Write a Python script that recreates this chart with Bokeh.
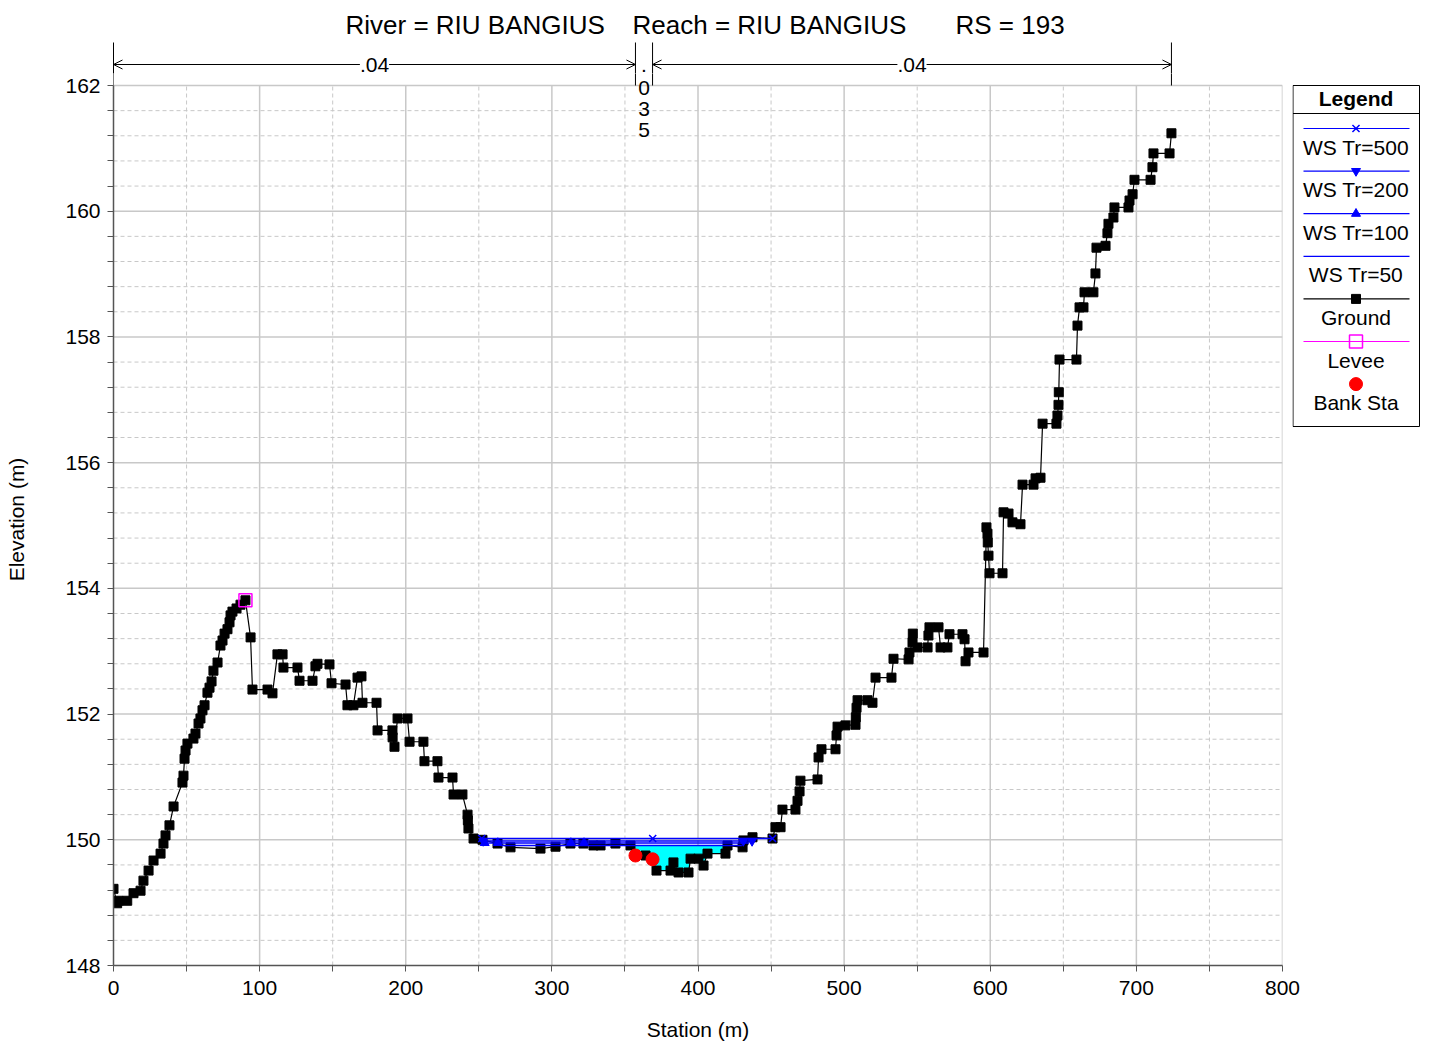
import numpy as np
from bokeh.plotting import figure
from bokeh.layouts import column, row
from bokeh.models import Range1d, FixedTicker, Label, Arrow, OpenHead
from bokeh.core.properties import value
from bokeh.embed import file_html
from bokeh.resources import INLINE

# ---------------- data ----------------
title_parts = ["River = RIU BANGIUS", "Reach = RIU BANGIUS", "RS = 193"]

station = [
    0.0, 2.5, 3.4, 9.4, 13.7, 18.5, 20.5, 24.0, 27.4, 32.2,
    34.2, 35.6, 38.3, 41.1, 47.2, 47.9, 48.6, 49.3, 50.6, 54.7,
    56.1, 58.2, 59.5, 60.9, 62.3, 64.3, 65.7, 67.1, 68.4, 71.2,
    73.2, 74.6, 76.0, 78.0, 79.4, 80.1, 81.4, 84.2, 86.9, 90.3,
    93.8, 95.1, 105.4, 108.8, 112.2, 115.7, 116.3, 125.9, 127.3, 136.2,
    138.2, 139.6, 147.8, 149.2, 158.8, 160.1, 164.2, 167.0, 169.7, 170.4,
    180.0, 180.7, 190.9, 191.0, 192.3, 194.4, 201.2, 202.6, 212.1, 212.8,
    221.7, 222.4, 232.0, 232.7, 238.8, 242.3, 242.5, 242.9, 246.4, 252.5,
    262.8, 271.7, 292.2, 302.5, 312.7, 321.6, 328.5, 333.3, 343.5, 353.8,
    357.2, 364.1, 368.9, 371.6, 381.2, 383.2, 386.7, 393.5, 394.9, 400.3,
    403.8, 406.5, 418.8, 420.2, 430.5, 431.1, 437.3, 451.0, 453.0, 456.5,
    457.8, 466.7, 468.1, 469.5, 470.1, 481.8, 482.5, 484.5, 494.1, 494.8,
    495.5, 500.9, 507.8, 508.0, 508.5, 509.2, 516.0, 519.4, 521.5, 532.4,
    533.8, 544.1, 544.7, 546.8, 547.0, 550.2, 557.1, 557.7, 558.4, 564.6,
    566.0, 570.7, 572.1, 581.0, 582.4, 583.1, 585.1, 595.4, 597.4, 598.1,
    598.3, 598.8, 599.5, 608.4, 609.1, 612.5, 615.2, 620.7, 622.1, 629.6,
    631.0, 634.4, 635.8, 645.3, 646.0, 646.7, 646.9, 647.4, 659.0, 659.7,
    661.1, 663.8, 664.5, 670.6, 672.0, 672.7, 678.9, 680.2, 680.9, 684.3,
    685.0, 694.6, 695.3, 697.4, 698.7, 709.7, 711.0, 711.7, 722.7, 724.0]

elevation = [
    149.22, 148.99, 149.03, 149.03, 149.15, 149.19, 149.35, 149.51, 149.67, 149.78,
    149.94, 150.07, 150.23, 150.53, 150.91, 151.02, 151.29, 151.42, 151.53, 151.61,
    151.69, 151.85, 151.93, 152.06, 152.14, 152.34, 152.42, 152.52, 152.69, 152.82,
    153.09, 153.17, 153.28, 153.35, 153.46, 153.57, 153.63, 153.68, 153.74, 153.81,
    153.22, 152.39, 152.39, 152.33, 152.95, 152.95, 152.74, 152.74, 152.53, 152.53,
    152.76, 152.80, 152.79, 152.49, 152.47, 152.14, 152.14, 152.58, 152.60, 152.18,
    152.18, 151.74, 151.74, 151.63, 151.48, 151.93, 151.93, 151.56, 151.56, 151.25,
    151.25, 150.99, 150.99, 150.72, 150.72, 150.40, 150.31, 150.18, 150.02, 150.00,
    149.94, 149.88, 149.86, 149.89, 149.94, 149.94, 149.91, 149.91, 149.94, 149.91,
    149.75, 149.75, 149.69, 149.51, 149.51, 149.64, 149.48, 149.48, 149.70, 149.70,
    149.59, 149.78, 149.78, 149.91, 149.88, 149.99, 150.04, 150.02, 150.20, 150.20,
    150.48, 150.48, 150.62, 150.77, 150.94, 150.96, 151.31, 151.44, 151.44, 151.66,
    151.80, 151.82, 151.83, 151.95, 152.10, 152.22, 152.22, 152.18, 152.58, 152.58,
    152.88, 152.87, 152.98, 153.14, 153.28, 153.06, 153.06, 153.25, 153.38, 153.38,
    153.06, 153.06, 153.27, 153.27, 153.19, 152.84, 152.98, 152.98, 154.97, 154.87,
    154.73, 154.52, 154.24, 154.24, 155.21, 155.19, 155.05, 155.02, 155.65, 155.65,
    155.75, 155.76, 156.62, 156.62, 156.75, 156.92, 157.12, 157.64, 157.64, 158.18,
    158.47, 158.47, 158.71, 158.71, 159.01, 159.42, 159.45, 159.65, 159.80, 159.90,
    160.06, 160.06, 160.17, 160.27, 160.50, 160.50, 160.70, 160.92, 160.92, 161.24]

levee_station = [90.3]
levee_elev = [153.81]

bank_station = [357.2, 368.9]
bank_elev = [149.75, 149.69]

ws_names = ["WS Tr=500", "WS Tr=200", "WS Tr=100", "WS Tr=50"]
ws_elev = [150.02, 149.98, 149.95, 149.91]
ws_left = [251.0, 252.0, 254.0, 265.0]
ws_right = [451.0, 437.0, 435.0, 430.0]
ws_markers = ["x", "inverted_triangle", "triangle", None]
ws500_mark_st = [252.0, 369.0, 451.0]
ws200_mark_st = [253.0, 431.0, 437.0]
ws100_mark_st = [254.0, 263.0, 313.0, 322.0]

fill_left, fill_right = 352.0, 432.0   # wetted channel shown in cyan

manning_n = [".04", ".035", ".04"]

x_ticks = [0, 100, 200, 300, 400, 500, 600, 700, 800]
x_minor = [50, 150, 250, 350, 450, 550, 650, 750]
y_ticks = [148, 150, 152, 154, 156, 158, 160, 162]
y_minor = [round(148 + 0.4 * k, 1) for k in range(1, 35) if k % 5]

x_title = "Station (m)"
y_title = "Elevation (m)"
legend_labels = ["WS Tr=500", "WS Tr=200", "WS Tr=100", "WS Tr=50", "Ground", "Levee", "Bank Sta"]

# ---------------- layout helpers (page pixels -> data) ----------------
FONT = "Liberation Sans"
W, H = 1428, 1044
TOP_H = 80                   # height of the strip above the plot (title + roughness)
MAIN_TOP = 73                # page y where the main figure starts (overlaps the strip)
FL, FR, FB = 113, 1282, 965  # plot frame left / right / bottom on the page
MAIN_W = 1300                # main figure width (room for the "800" label)
LEG_X = 1292                 # where the legend figure starts (overlaps the main border)
def dx(px):
    return (px - FL) * 800.0 / (FR - FL)
def dy(py):
    return 148 + (FB - py) * 14.0 / 880.0

def bare(fig):
    fig.outline_line_color = None
    fig.background_fill_color = None
    fig.border_fill_color = None
    fig.xgrid.visible = False
    fig.ygrid.visible = False
    return fig

# ---------- top strip: title and Manning's n ----------
pt = bare(figure(width=W, height=TOP_H, x_range=Range1d(dx(0), dx(W)), y_range=Range1d(dy(TOP_H), dy(0)),
                 output_backend="svg", toolbar_location=None, x_axis_location=None, y_axis_location=None,
                 min_border_left=0, min_border_right=0, min_border_top=0, min_border_bottom=0))
pt.text(x=[dx(345), dx(632), dx(955)], y=[dy(24)] * 3, text=title_parts,
        text_font=value(FONT), text_font_size="26px", text_align="left", text_baseline="middle",
        text_color="black")
bounds_st = [station[0], bank_station[0], bank_station[1], station[-1]]
pt.segment(x0=bounds_st, y0=[dy(MAIN_TOP)] * 4, x1=bounds_st, y1=[dy(42)] * 4, line_color="black", line_width=1)
ya = dy(64)
for (a, b) in [(bounds_st[0], bounds_st[1]), (bounds_st[2], bounds_st[3])]:
    pt.add_layout(Arrow(x_start=a, y_start=ya, x_end=b, y_end=ya, line_color="black", line_width=1,
                        start=OpenHead(size=9, line_width=1, line_color="black"),
                        end=OpenHead(size=9, line_width=1, line_color="black")))
for txt, (a, b) in [(manning_n[0], (bounds_st[0], bounds_st[1])), (manning_n[2], (bounds_st[2], bounds_st[3]))]:
    pt.add_layout(Label(x=(a + b) / 2, y=ya, text=txt, text_align="center", text_baseline="middle",
                        text_font=FONT, text_font_size="21px", text_color="black",
                        background_fill_color="white"))
mid = (bounds_st[1] + bounds_st[2]) / 2
chars = list(manning_n[1])
pt.text(x=[mid], y=[dy(64)], text=chars[:1], text_font=value(FONT), text_font_size="21px",
        text_align="center", text_baseline="middle", text_color="black")

# ---------- main plot ----------
HM = H - MAIN_TOP
p = bare(figure(width=MAIN_W, height=HM, x_range=Range1d(0, 800), y_range=Range1d(148, dy(MAIN_TOP)),
                output_backend="svg", toolbar_location=None,
                min_border_left=FL, min_border_right=MAIN_W - FR, min_border_top=0,
                min_border_bottom=H - FB))
p.xaxis.bounds = (x_ticks[0], x_ticks[-1])
p.yaxis.bounds = (y_ticks[0], y_ticks[-1])
p.xaxis.ticker = FixedTicker(ticks=x_ticks, minor_ticks=x_minor)
p.yaxis.ticker = FixedTicker(ticks=y_ticks, minor_ticks=y_minor)
p.xaxis.axis_label = x_title
p.yaxis.axis_label = y_title
for ax in (p.xaxis[0], p.yaxis[0]):
    ax.axis_line_color = "#555555"
    ax.axis_line_width = 1.5
    ax.major_tick_line_color = "#555555"
    ax.minor_tick_line_color = "#555555"
    ax.major_tick_out = 6
    ax.major_tick_in = 0
    ax.minor_tick_out = 6
    ax.minor_tick_in = 0
    ax.major_label_text_font = FONT
    ax.major_label_text_font_size = "21px"
    ax.major_label_text_color = "black"
    ax.axis_label_text_font = FONT
    ax.axis_label_text_font_size = "21px"
    ax.axis_label_text_font_style = "normal"
    ax.axis_label_text_color = "black"
p.xaxis.major_label_standoff = 9
p.yaxis.major_label_standoff = 7
p.xaxis.axis_label_standoff = 20
p.yaxis.axis_label_standoff = 34

gx0, gx1 = x_ticks[0], x_ticks[-1]
gy0, gy1 = y_ticks[0], y_ticks[-1]
p.segment(x0=x_minor, y0=[gy0] * len(x_minor), x1=x_minor, y1=[gy1] * len(x_minor),
          line_color="#c8c8c8", line_width=1, line_dash="4 3")
p.segment(x0=[gx0] * len(y_minor), y0=y_minor, x1=[gx1] * len(y_minor), y1=y_minor,
          line_color="#c8c8c8", line_width=1, line_dash="4 3")
p.segment(x0=x_ticks[1:], y0=[gy0] * (len(x_ticks) - 1), x1=x_ticks[1:], y1=[gy1] * (len(x_ticks) - 1),
          line_color="#c8c8c8", line_width=1.5)
p.segment(x0=[gx0] * (len(y_ticks) - 1), y0=y_ticks[1:], x1=[gx1] * (len(y_ticks) - 1), y1=y_ticks[1:],
          line_color="#c8c8c8", line_width=1.5)

# Manning's n bounds continue down to the plot top, and the vertical ".035"
p.segment(x0=bounds_st, y0=[gy1] * 4, x1=bounds_st, y1=[dy(MAIN_TOP)] * 4, line_color="black", line_width=1)
p.text(x=[mid] * (len(chars) - 1), y=[dy(87 + 21 * k) for k in range(len(chars) - 1)], text=chars[1:],
       text_font=value(FONT), text_font_size="21px", text_align="center", text_baseline="middle",
       text_color="black")

# cyan wetted area
st = np.array(station)
el = np.array(elevation)
lvl = ws_elev[3]
fx = [fill_left] + [s for s in station if fill_left < s < fill_right] + [fill_right]
fy = np.minimum(np.interp(fx, st, el), lvl)
p.patch(x=fx + fx[::-1], y=list(fy) + [lvl] * len(fx), fill_color="#00ffff", line_color=None)

# ground
p.line(station, elevation, line_color="black", line_width=1.2)
p.scatter(station, elevation, marker="square", size=9, fill_color="black", line_color="black")

# water surfaces
for i in range(4):
    p.line([ws_left[i], ws_right[i]], [ws_elev[i]] * 2, line_color="#0000ff", line_width=1.5)
p.scatter(ws500_mark_st, [ws_elev[0]] * len(ws500_mark_st), marker="x", size=10,
          line_color="#0000ff", line_width=1.5)
p.scatter(ws200_mark_st, [ws_elev[1]] * len(ws200_mark_st), marker="inverted_triangle", size=9,
          line_color="#0000ff", fill_color="#0000ff")
p.scatter(ws100_mark_st, [ws_elev[2]] * len(ws100_mark_st), marker="triangle", size=9,
          line_color="#0000ff", fill_color="#0000ff")

# levee and bank stations
p.scatter(levee_station, levee_elev, marker="square", size=13, fill_color=None,
          line_color="#ff00ff", line_width=1.5)
p.scatter(bank_station, bank_elev, marker="circle", size=13, fill_color="#ff0000", line_color="#ff0000")

# ---------- legend column (transparent, slides over the main figure's right border) ----------
pl = bare(figure(width=W - LEG_X, height=HM, x_range=Range1d(dx(LEG_X), dx(W)),
                 y_range=Range1d(dy(FB), dy(MAIN_TOP)), output_backend="svg", toolbar_location=None,
                 x_axis_location=None, y_axis_location=None,
                 min_border_left=0, min_border_right=0, min_border_top=0, min_border_bottom=H - FB))
pl.margin = (0, 0, 0, LEG_X - MAIN_W)
LX0, LX1, LY0, LY1 = 1292.5, 1419, 85, 426
LC = (1292 + 1419) / 2
pl.quad(left=dx(LX0), right=dx(LX1), top=dy(LY0), bottom=dy(LY1), fill_color="white",
        line_color="black", line_width=1)
pl.segment(x0=dx(LX0), y0=dy(113), x1=dx(LX1), y1=dy(113), line_color="black", line_width=1)
pl.text(x=[dx(LC)], y=[dy(98)], text=["Legend"], text_font=value(FONT), text_font_size="21px",
        text_font_style="bold", text_align="center", text_baseline="middle", text_color="black")
step = 42.6
line_cols = ["#0000ff", "#0000ff", "#0000ff", "#0000ff", "black", "#ff00ff", None]
for i, lab in enumerate(legend_labels):
    yl = 128 + step * i
    if line_cols[i] is not None:
        pl.line([dx(1303), dx(1409)], [dy(yl)] * 2, line_color=line_cols[i], line_width=1.2)
    if i < 3:
        mk = ws_markers[i]
        if mk == "x":
            pl.scatter([dx(LC)], [dy(yl)], marker="x", size=10, line_color="#0000ff", line_width=1.5)
        else:
            pl.scatter([dx(LC)], [dy(yl)], marker=mk, size=9, line_color="#0000ff", fill_color="#0000ff")
    elif i == 4:
        pl.scatter([dx(LC)], [dy(yl)], marker="square", size=9, fill_color="black", line_color="black")
    elif i == 5:
        pl.scatter([dx(LC)], [dy(yl)], marker="square", size=13, fill_color=None,
                   line_color="#ff00ff", line_width=1.5)
    elif i == 6:
        pl.scatter([dx(LC)], [dy(yl)], marker="circle", size=13, fill_color="#ff0000", line_color="#ff0000")
    pl.text(x=[dx(LC)], y=[dy(yl + 18.5)], text=[lab], text_font=value(FONT), text_font_size="21px",
            text_align="center", text_baseline="middle", text_color="black")

main_row = row(p, pl, spacing=0)
main_row.margin = (MAIN_TOP - TOP_H, 0, 0, 0)
layout = column(pt, main_row, spacing=0)
open("out.html", "w").write(file_html(layout, INLINE))
